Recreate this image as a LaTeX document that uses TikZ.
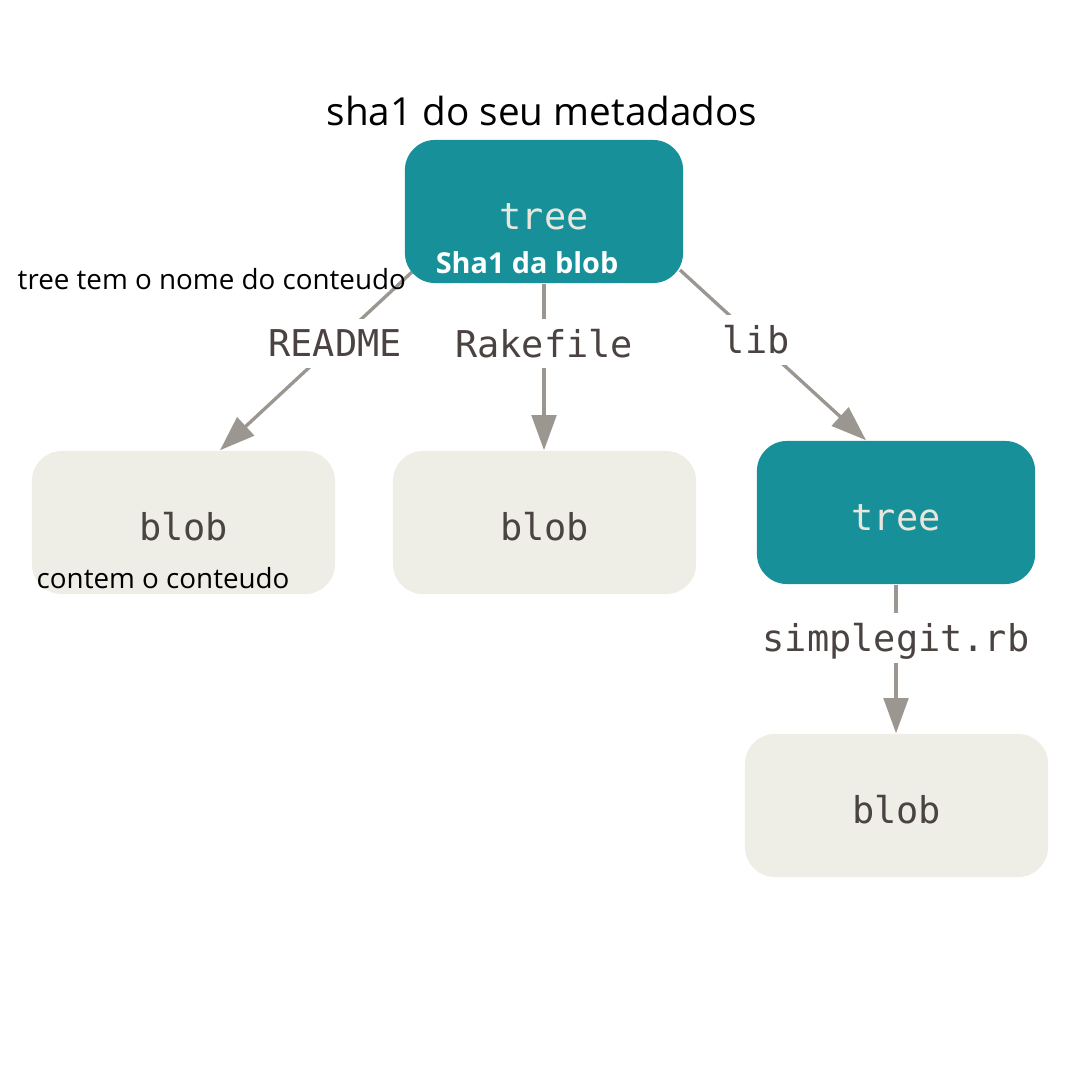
\documentclass[tikz,border=0pt]{standalone}
\usepackage{fontspec}
\setmainfont{Open Sans}
\setmonofont{DejaVu Sans Mono}
\usetikzlibrary{arrows.meta, backgrounds}

\definecolor{treeteal}{HTML}{17909A}
\definecolor{treetext}{HTML}{E9E6DD}
\definecolor{blobfill}{HTML}{EEEDE6}
\definecolor{monotext}{HTML}{4A4341}
\definecolor{arrowgray}{HTML}{9B9690}

\begin{document}
\begin{tikzpicture}[x=0.01cm, y=-0.01cm,
    box/.style={rounded corners=0.3cm, minimum height=1.43cm, text height=10.5pt, text depth=0pt,
        font=\ttfamily\fontsize{10.5}{12}\selectfont},
    treebox/.style={box, fill=treeteal, text=treetext, minimum width=2.78cm},
    blobbox/.style={box, fill=blobfill, text=monotext, minimum width=3.03cm},
    link/.style={draw=arrowgray, line width=0.95pt, -{Triangle[length=10pt, width=7pt]}},
    filename/.style={fill=white, text=monotext, font=\ttfamily\fontsize{10.5}{12}\selectfont,
        text height=7.7pt, text depth=0pt, inner ysep=3.2pt, inner xsep=3pt},
    note/.style={text=black, font=\fontsize{7.9}{9}\selectfont, inner sep=0pt}
]
    \useasboundingbox (0,0) rectangle (1080,1080);

    % Draw tree and blob boxes
    \node[treebox] (root) at (544,211.5) {tree};
    \node[blobbox] (readmeblob) at (183.5,522.5) {blob};
    \node[blobbox] (rakeblob) at (544.5,522.5) {blob};
    \node[treebox] (libtree) at (896,512.5) {tree};
    \node[blobbox] (rbblob) at (896.5,805.5) {blob};

    % Draw connectors with file names (behind the boxes)
    \begin{scope}[on background layer]
        \draw[link] ([shift={(-132,60.5)}]root.center) -- node[filename, pos=0.4] (readme) {README}
            ([shift={(36.5,0)}]readmeblob.north);
        \draw[link] (root.south) -- node[filename, pos=0.36] (rakefile) {Rakefile} ([shift={(-0.5,0)}]rakeblob.north);
        \draw[link] ([shift={(136,58.5)}]root.center) -- node[filename, pos=0.41] (lib) {lib}
            ([shift={(-30,0)}]libtree.north);
        \draw[link] (libtree.south) -- node[filename, pos=0.36] (simplegit) {simplegit.rb} ([shift={(-0.5,0)}]rbblob.north);
    \end{scope}

    % Add notes
    \node[font=\fontsize{11}{13}\selectfont, inner sep=0pt] (title) at (542,111.5) {sha1 do seu metadados};
    \node[note, anchor=west] (treenote) at (17,279.5) {tree tem o nome do conteudo};
    \node[note, anchor=west] (blobnote) at (36,578.5) {contem o conteudo};
    \node[text=white, font=\bfseries\fontsize{8.2}{10}\selectfont, inner sep=0pt] (sha) at (527,262.5) {Sha1 da blob};
\end{tikzpicture}
\end{document}
